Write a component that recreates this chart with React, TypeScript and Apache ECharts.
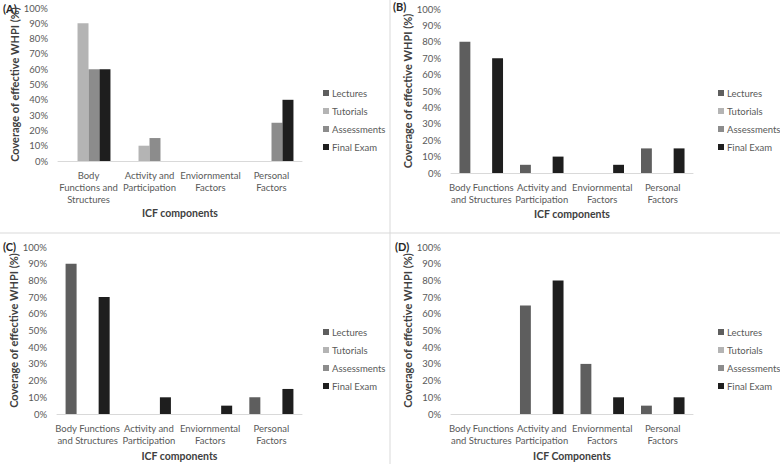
import React, { useEffect, useRef } from "react";
import * as echarts from "echarts";

const seriesNames = ["Lectures", "Tutorials", "Assessments", "Final Exam"];
const seriesColors = ["#5e5e5e", "#b4b4b4", "#8c8c8c", "#1e1e1e"];

const catsA = ["Body\nFunctions and\nStructures", "Activity and\nParticipation", "Enviornmental\nFactors", "Personal\nFactors"];
const catsBCD = ["Body Functions\nand Structures", "Activity and\nParticipation", "Enviornmental\nFactors", "Personal\nFactors"];

const yTicksMax = 100;
const yInterval = 10;

// Panel A
const aLectures = [0, 0, 0, 0];
const aTutorials = [90, 10, 0, 0];
const aAssessments = [60, 15, 0, 25];
const aFinal = [60, 0, 0, 40];
// Panel B
const bLectures = [80, 5, 0, 15];
const bTutorials = [0, 0, 0, 0];
const bAssessments = [0, 0, 0, 0];
const bFinal = [70, 10, 5, 15];
// Panel C
const cLectures = [90, 0, 0, 10];
const cTutorials = [0, 0, 0, 0];
const cAssessments = [0, 0, 0, 0];
const cFinal = [70, 10, 5, 15];
// Panel D
const dLectures = [0, 65, 30, 5];
const dTutorials = [0, 0, 0, 0];
const dAssessments = [0, 0, 0, 0];
const dFinal = [0, 80, 10, 10];

const panelLetters = ["(A)", "(B)", "(C)", "(D)"];
const xTitles = ["ICF components", "ICF components", "ICF components", "ICF Components"];
const yTitle = "Coverage of effective WHPI (%)";

const FONT = "Lato";

export default function App() {
  const ref = useRef<HTMLDivElement>(null);
  useEffect(() => {
    document.body.style.margin = "0";
    const chart = echarts.init(ref.current!, null, { renderer: "svg" });

    const panels = [
      { cats: catsA, data: [aLectures, aTutorials, aAssessments, aFinal], grid: { left: 58, top: 8, width: 244, height: 153 }, xGap: 46, legend: { left: 318, top: 82 }, letter: { x: 3, y: 3 } },
      { cats: catsBCD, data: [bLectures, bTutorials, bAssessments, bFinal], grid: { left: 451, top: 9, width: 242, height: 164 }, xGap: 35, legend: { left: 713, top: 82 }, letter: { x: 393, y: 1 } },
      { cats: catsBCD, data: [cLectures, cTutorials, cAssessments, cFinal], grid: { left: 57, top: 247, width: 245, height: 167 }, xGap: 36, legend: { left: 318, top: 321 }, letter: { x: 3, y: 241 } },
      { cats: catsBCD, data: [dLectures, dTutorials, dAssessments, dFinal], grid: { left: 451, top: 247, width: 242, height: 167 }, xGap: 36, legend: { left: 713, top: 321 }, letter: { x: 395, y: 241 } },
    ];

    const grids: any[] = [];
    const xAxes: any[] = [];
    const yAxes: any[] = [];
    const series: any[] = [];
    const legends: any[] = [];
    const graphics: any[] = [];

    panels.forEach((p, i) => {
      grids.push({ ...p.grid, containLabel: false });
      xAxes.push({
        type: "category",
        gridIndex: i,
        data: p.cats,
        axisLine: { show: true, lineStyle: { color: "#d9d9d9", width: 1 } },
        axisTick: { show: false },
        axisLabel: { color: "#595959", fontFamily: FONT, fontSize: 9.5, lineHeight: 12, margin: 8, interval: 0 },
        name: xTitles[i],
        nameLocation: "middle",
        nameGap: p.xGap,
        nameTextStyle: { color: "#404040", fontFamily: FONT, fontWeight: "bold", fontSize: 10.5 },
      });
      yAxes.push({
        type: "value",
        gridIndex: i,
        min: 0,
        max: yTicksMax,
        interval: yInterval,
        axisLine: { show: false },
        axisTick: { show: false },
        splitLine: { show: false },
        axisLabel: { color: "#595959", fontFamily: FONT, fontSize: 9.5, margin: 10, formatter: "{value}%" },
        name: yTitle,
        nameLocation: "middle",
        nameRotate: 90,
        nameGap: 37,
        nameTextStyle: { color: "#404040", fontFamily: FONT, fontWeight: "bold", fontSize: 11 },
      });
      p.data.forEach((vals, s) => {
        series.push({
          type: "bar",
          name: seriesNames[s],
          xAxisIndex: i,
          yAxisIndex: i,
          data: vals,
          barGap: "0%",
          barCategoryGap: "28%",
          itemStyle: { color: seriesColors[s] },
          emphasis: { disabled: true },
        });
      });
      legends.push({
        orient: "vertical",
        left: p.legend.left,
        top: p.legend.top,
        data: seriesNames,
        icon: "rect",
        itemWidth: 6,
        itemHeight: 6,
        itemGap: 6,
        selectedMode: false,
        textStyle: { color: "#595959", fontFamily: FONT, fontSize: 9.5, lineHeight: 12, padding: [0, 0, 0, -2] },
      });
      graphics.push({
        type: "text",
        left: p.letter.x,
        top: p.letter.y,
        style: { text: panelLetters[i], fill: "#262626", font: `bold 11px ${FONT}` },
      });
    });

    graphics.push({ type: "line", shape: { x1: 390, y1: 0, x2: 390, y2: 464 }, style: { stroke: "#d9d9d9", lineWidth: 1 } });
    graphics.push({ type: "line", shape: { x1: 0, y1: 233, x2: 780, y2: 233 }, style: { stroke: "#d9d9d9", lineWidth: 1 } });

    chart.setOption({
      animation: false,
      backgroundColor: "#ffffff",
      color: seriesColors,
      grid: grids,
      xAxis: xAxes,
      yAxis: yAxes,
      series,
      legend: legends,
      graphic: graphics,
    });
    return () => chart.dispose();
  }, []);
  return <div ref={ref} style={{ width: 780, height: 464 }} />;
}
